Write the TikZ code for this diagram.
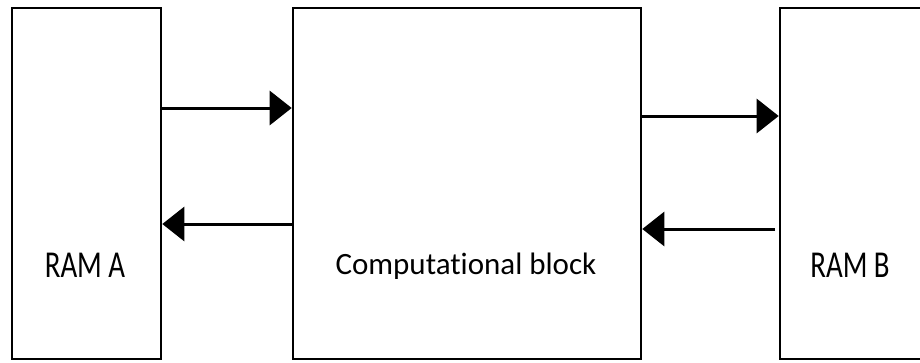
\documentclass[tikz,border=0pt]{standalone}
\usepackage{fontspec}
\setmainfont[Ligatures=NoCommon]{Carlito}
\usetikzlibrary{arrows.meta}

\tikzset{
  block/.style={draw=black, line width=2.6pt, rectangle, minimum height=351pt, inner sep=0pt},
  flow/.style={draw=black, line width=3pt, -{Triangle[length=22pt,width=34pt]}},
  ramlabel/.style={inner sep=0pt, font=\fontsize{38}{40}\selectfont, text=black, xscale=0.76},
  blocklabel/.style={inner sep=0pt, font=\fontsize{31}{34}\selectfont, text=black}
}

\begin{document}
\begin{tikzpicture}[x=1pt, y=-1pt]
  \useasboundingbox (0,0) rectangle (920,362);
  \fill[white] (0,0) rectangle (920,362);

  % the three blocks
  \node[block, minimum width=149pt] (ramA) at (86.5,183.5) {};
  \node[block, minimum width=348pt] (comp) at (467,183.5) {};
  \node[block, minimum width=149pt] (ramB) at (854.5,183.5) {};

  % block captions
  \node[ramlabel] (labA) at (85,265.5) {RAM A};
  \node[blocklabel] (labC) at (466,266) {Computational block};
  \node[ramlabel] (labB) at (850,265.5) {RAM B};

  % data paths
  \coordinate (retB) at (775,229);
  \draw[flow] (ramA.east |- 0,108) -- (comp.west |- 0,108);
  \draw[flow] (comp.west |- 0,224) -- (ramA.east |- 0,224);
  \draw[flow] (comp.east |- 0,116) -- (ramB.west |- 0,116);
  \draw[flow] (retB) -- (comp.east |- retB);
\end{tikzpicture}
\end{document}
